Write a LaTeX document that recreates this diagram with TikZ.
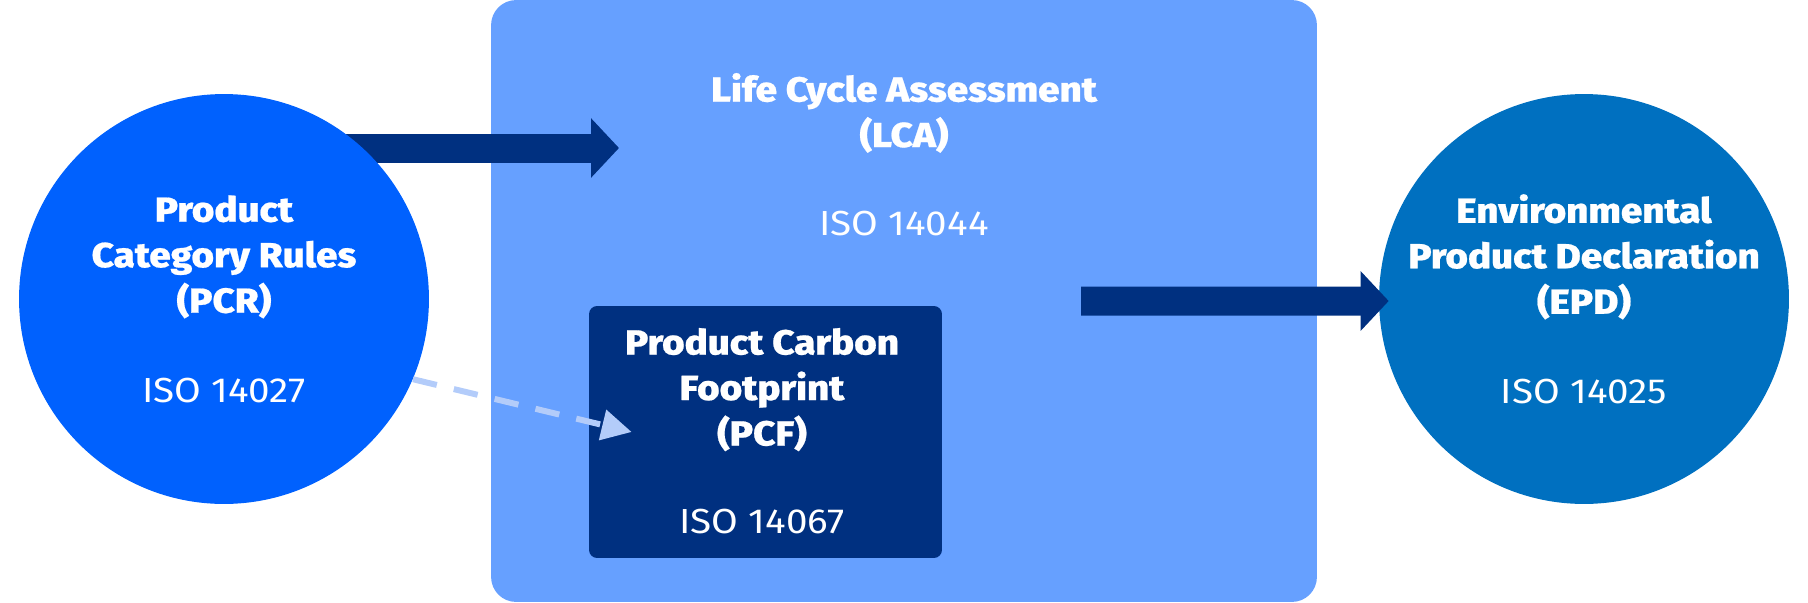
\documentclass[tikz,border=0pt]{standalone}
\usepackage{fontspec}
\setmainfont{Fira Sans}[FakeStretch=1.11]
\newfontfamily\headfont{Fira Sans}[UprightFont={* ExtraBold},FakeStretch=1.11,FakeBold=0.6]
\usepackage{tikz}
\usetikzlibrary{arrows.meta}
\usetikzlibrary{positioning}
\definecolor{pcrblue}{RGB}{0,97,254}
\definecolor{epdblue}{RGB}{0,112,192}
\definecolor{lcablue}{RGB}{102,160,255}
\definecolor{navy}{RGB}{0,48,128}
\definecolor{hintblue}{RGB}{179,204,250}
\newcommand{\headtext}{\headfont\fontsize{19.8}{25.9}\selectfont}
\newcommand{\isotext}{\normalfont\fontsize{19.8}{25.9}\selectfont}
\pgfdeclarelayer{bg}
\pgfdeclarelayer{mid}
\pgfsetlayers{bg,mid,main}
\tikzset{
	disc/.style={circle,inner sep=0pt,minimum size=8.2cm,text=white,align=center,font=\headtext},
	lcabox/.style={rectangle,rounded corners=0.5cm,fill=lcablue,inner sep=0pt,minimum width=16.52cm,minimum height=12.04cm},
	pcfbox/.style={rectangle,rounded corners=0.16cm,fill=navy,inner sep=0pt,minimum width=7.06cm,minimum height=5.04cm},
	boxtext/.style={inner sep=0pt,text=white,align=center,font=\headtext},
	bigarrow/.style={draw=navy,line width=0.58cm,-{Triangle[length=0.56cm,width=1.16cm]}},
	hint/.style={draw=hintblue,line width=0.12cm,dash pattern=on 0.49cm off 0.35cm,-{Triangle[length=0.6cm,width=0.6cm]}},
}

\begin{document}
\begin{tikzpicture}[x=0.02cm,y=-0.02cm]
\useasboundingbox (0,0) rectangle (1808,602);

\begin{pgfonlayer}{bg}
\node[lcabox] (lca) at (904,301) {};
\end{pgfonlayer}
\node[pcfbox] (pcf) at (765.5,432) {};

\node[disc,fill=pcrblue] (pcr) at (224,299) {Product\\Category Rules\\(PCR)\\[25.1pt]{\isotext ISO 14027}};
\node[disc,fill=epdblue] (epd) at (1584,299) {Environmental\\Product Declaration\\(EPD)\\[25.1pt]{\isotext ISO 14025}};

\node[boxtext,below=1.46cm of lca.north] (lcatxt) {Life Cycle Assessment\\(LCA)\\[24.5pt]{\isotext ISO 14044}};
\node[boxtext,below=0.44cm of pcf.north,xshift=-0.07cm] (pcftxt) {Product Carbon\\Footprint\\(PCF)\\[24pt]{\isotext ISO 14067}};

\coordinate (lcain) at (619,148);
\coordinate (lcaout) at (1081,301);
\begin{pgfonlayer}{mid}
\draw[bigarrow] (pcr.center |- lcain) -- (lcain);
\end{pgfonlayer}
\draw[bigarrow] (lcaout) -- ([xshift=0.2cm,yshift=-0.04cm]epd.west);
\draw[hint] (pcr.-23) -- ([xshift=0.86cm]pcf.west);
\end{tikzpicture}
\end{document}
